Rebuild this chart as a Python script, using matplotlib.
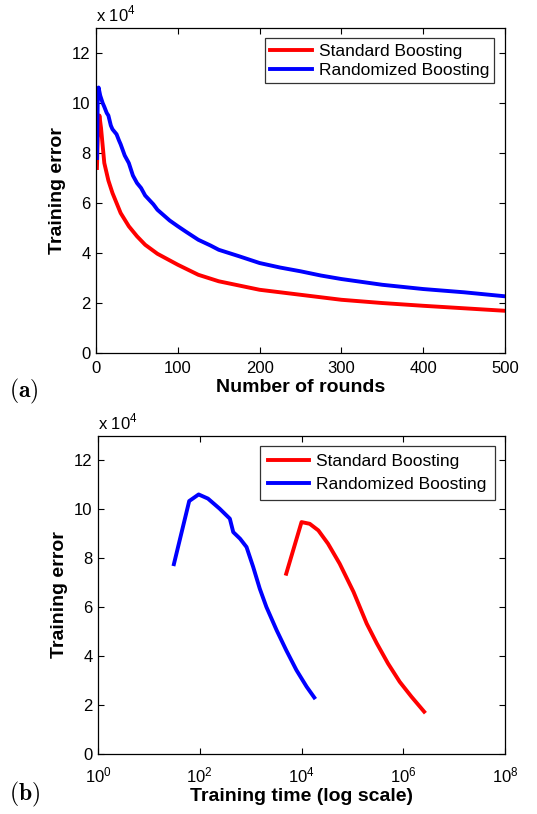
import numpy as np
import matplotlib
matplotlib.use('Agg')
import matplotlib.pyplot as plt
from matplotlib.ticker import NullLocator

plt.rcParams['font.family'] = ['Liberation Sans', 'DejaVu Sans']
plt.rcParams['mathtext.fontset'] = 'custom'
plt.rcParams['mathtext.rm'] = 'Liberation Sans'

# (a) training error (x 10^4) vs number of rounds
rounds_std = [1, 2, 4, 6, 10, 15, 20, 25, 30, 40, 50, 60, 75, 100, 125, 150,
              200, 250, 300, 350, 400, 450, 500]
err_std = [7.4, 8.6, 9.5, 9.0, 7.6, 6.9, 6.4, 6.0, 5.6, 5.07, 4.67, 4.33, 3.97,
           3.53, 3.13, 2.87, 2.53, 2.33, 2.13, 2.0, 1.89, 1.79, 1.69]

rounds_rnd = [1, 2, 3, 5, 8, 10, 13, 15, 18, 20, 25, 28, 30, 35, 40, 45, 50, 55,
              60, 70, 75, 90, 100, 110, 125, 140, 150, 175, 200, 225, 250, 275,
              300, 350, 400, 450, 500]
err_rnd = [7.8, 10.2, 10.62, 10.3, 10.0, 9.85, 9.6, 9.5, 9.1, 8.95, 8.75, 8.5,
           8.35, 7.9, 7.6, 7.1, 6.8, 6.6, 6.3, 5.95, 5.73, 5.3, 5.07, 4.85,
           4.53, 4.3, 4.13, 3.87, 3.6, 3.42, 3.27, 3.1, 2.96, 2.73, 2.56, 2.43,
           2.27]

# (b) training error (x 10^4) vs training time (log scale)
time_rnd = [31, 62, 95, 145, 245, 390, 455, 620, 830, 1120, 1510, 2040, 3240,
            5010, 7940, 12600, 17800]
err_time_rnd = [7.76, 10.34, 10.61, 10.44, 10.03, 9.62, 9.07, 8.8, 8.46, 7.65,
                6.76, 6.01, 5.06, 4.24, 3.43, 2.75, 2.31]

time_std = [5000, 10000, 14500, 21400, 33100, 56200, 105000, 191000, 302000,
            501000, 851000, 1450000, 2570000]
err_time_std = [7.37, 9.48, 9.41, 9.14, 8.6, 7.78, 6.63, 5.33, 4.52, 3.70,
                2.95, 2.34, 1.73]

labels = ['Standard Boosting', 'Randomized Boosting']
red = '#ff0000'
blue = '#0000ff'
lw = 2.8

fig = plt.figure(figsize=(5.37, 8.14), dpi=100)
ax1 = fig.add_axes([0.179, 0.5663, 0.761, 0.3993])
ax2 = fig.add_axes([0.1825, 0.0737, 0.758, 0.3907])


def style_axes(ax):
    ax.tick_params(direction='in', top=True, right=True, length=4,
                   width=0.8, labelsize=12, pad=4)
    ax.tick_params(which='minor', length=0)
    for s in ax.spines.values():
        s.set_linewidth(0.9)
    ax.set_ylim(0, 13)
    ax.set_yticks([0, 2, 4, 6, 8, 10, 12])
    ax.set_ylabel('Training error', fontsize=14, fontweight='bold', labelpad=4)
    ax.text(0.0, 1.012, r'x 10$^{4}$', transform=ax.transAxes, fontsize=12,
            ha='left', va='bottom')


# panel (a)
ax1.plot(rounds_std, err_std, color=red, lw=lw, label=labels[0])
ax1.plot(rounds_rnd, err_rnd, color=blue, lw=lw, label=labels[1])
ax1.set_xlim(0, 500)
ax1.set_xticks([0, 100, 200, 300, 400, 500])
style_axes(ax1)
ax1.tick_params(axis='x', pad=6)
ax1.set_xlabel('Number of rounds', fontsize=14, fontweight='bold', labelpad=2)
leg = ax1.legend(loc='upper right', fontsize=12.5, frameon=True, fancybox=False,
                 edgecolor='black', handlelength=2.4, borderpad=0.3,
                 labelspacing=0.25, handletextpad=0.4, borderaxespad=0.6)
leg.get_frame().set_linewidth(0.9)

# panel (b)
ax2.plot(time_std, err_time_std, color=red, lw=lw, label=labels[0])
ax2.plot(time_rnd, err_time_rnd, color=blue, lw=lw, label=labels[1])
ax2.set_xscale('log')
ax2.set_xlim(1, 1e8)
ax2.set_xticks([1, 1e2, 1e4, 1e6, 1e8])
ax2.xaxis.set_minor_locator(NullLocator())
style_axes(ax2)
ax2.tick_params(axis='x', pad=8)
ax2.set_xlabel('Training time (log scale)', fontsize=14, fontweight='bold',
               labelpad=2)
leg2 = ax2.legend(loc='upper right', fontsize=12.5, frameon=True, fancybox=False,
                  edgecolor='black', handlelength=2.4, borderpad=0.45,
                  labelspacing=0.45, handletextpad=0.4, borderaxespad=0.6)
leg2.get_frame().set_linewidth(0.9)

# panel letters
fig.text(0.016, 0.512, r'$\mathbf{(a)}$', fontsize=17, math_fontfamily='cm')
fig.text(0.016, 0.017, r'$\mathbf{(b)}$', fontsize=17, math_fontfamily='cm')

fig.savefig('out.png', dpi=100)
